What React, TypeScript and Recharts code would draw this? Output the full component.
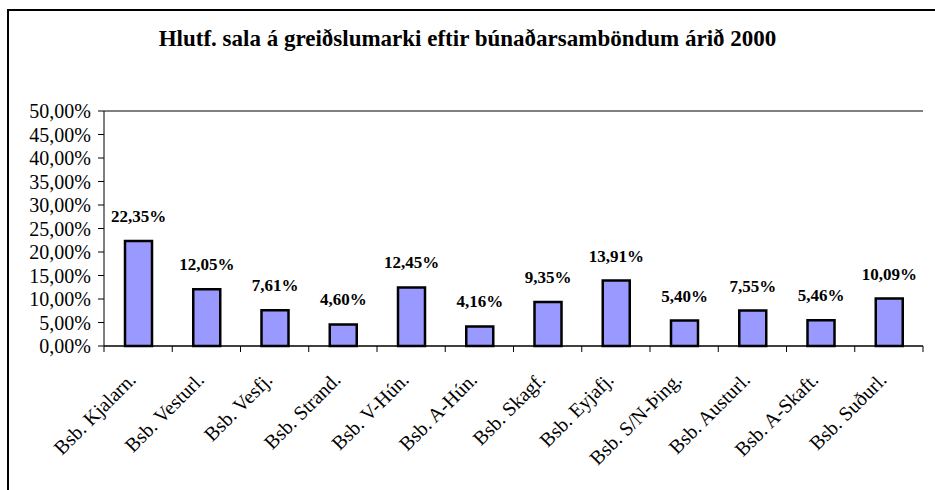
import { Bar, BarChart, CartesianGrid, LabelList, ReferenceLine, XAxis, YAxis } from "recharts"

// Búnaðarsambönd og hlutfall sölu á greiðslumarki árið 2000
const categories = [
  "Bsb. Kjalarn.",
  "Bsb. Vesturl.",
  "Bsb. Vesfj.",
  "Bsb. Strand.",
  "Bsb. V-Hún.",
  "Bsb. A-Hún.",
  "Bsb. Skagf.",
  "Bsb. Eyjafj.",
  "Bsb. S/N-Þing.",
  "Bsb. Austurl.",
  "Bsb. A-Skaft.",
  "Bsb. Suðurl.",
]
const values = [22.35, 12.05, 7.61, 4.6, 12.45, 4.16, 9.35, 13.91, 5.4, 7.55, 5.46, 10.09]
const yTicks = [0, 5, 10, 15, 20, 25, 30, 35, 40, 45, 50]

const data = categories.map((name, i) => ({ name, value: values[i] }))

const FONT = "'Liberation Serif', 'Times New Roman', serif"
const WIDTH = 935
const HEIGHT = 490
const MARGIN = { top: 111, right: 12, bottom: 34, left: 14 }
const Y_WIDTH = 90
const X_HEIGHT = 110
const PLOT_W = WIDTH - MARGIN.left - MARGIN.right - Y_WIDTH

const pct = (v: number) => `${v.toFixed(2).replace(".", ",")}%`

function CategoryTick(props: any) {
  const { x, y, payload, index } = props
  const band = PLOT_W / categories.length
  const i = index ?? payload.index
  return (
    <g>
      <line x1={x - band / 2} x2={x - band / 2} y1={y} y2={y + 6} stroke="#000" />
      {i === categories.length - 1 && (
        <line x1={x + band / 2} x2={x + band / 2} y1={y} y2={y + 6} stroke="#000" />
      )}
      <text
        transform={`translate(${x - 1},${y + 35}) rotate(-45)`}
        textAnchor="end"
        fontFamily={FONT}
        fontSize={20}
        fill="#000"
      >
        {payload.value}
      </text>
    </g>
  )
}

export default function App() {
  return (
    <div
      style={{
        position: "absolute",
        left: 0,
        top: 0,
        width: WIDTH,
        height: HEIGHT,
        overflow: "hidden",
        background: "#fff",
      }}
    >
      <div
        style={{
          position: "absolute",
          left: 7,
          top: 9,
          width: WIDTH,
          height: HEIGHT,
          borderLeft: "2px solid #000",
          borderTop: "2px solid #000",
        }}
      />
      <div
        style={{
          position: "absolute",
          left: 0,
          top: 27,
          width: WIDTH,
          textAlign: "center",
          fontFamily: FONT,
          fontWeight: "bold",
          fontSize: 23,
          lineHeight: "24px",
        }}
      >
        Hlutf. sala á greiðslumarki eftir búnaðarsamböndum árið 2000
      </div>
      <div style={{ position: "absolute", left: 0, top: 0 }}>
        <BarChart width={WIDTH} height={HEIGHT} data={data} margin={MARGIN}>
          <CartesianGrid vertical={false} stroke="#000" strokeWidth={1} />
          <XAxis
            dataKey="name"
            interval={0}
            height={X_HEIGHT}
            tickLine={false}
            tickSize={0}
            tickMargin={0}
            axisLine={{ stroke: "#000" }}
            tick={<CategoryTick />}
          />
          <YAxis
            yAxisId="left"
            domain={[0, 50]}
            ticks={yTicks}
            interval={0}
            width={Y_WIDTH}
            tickSize={6}
            tickMargin={7}
            tickLine={{ stroke: "#000" }}
            axisLine={{ stroke: "#000" }}
            tickFormatter={pct}
            tick={{ fill: "#000", fontFamily: FONT, fontSize: 20 }}
          />
          <YAxis
            yAxisId="right"
            orientation="right"
            domain={[0, 50]}
            width={0}
            tick={false}
            tickLine={false}
            axisLine={{ stroke: "#808080", strokeWidth: 2 }}
          />
          <ReferenceLine yAxisId="left" y={50} stroke="#808080" strokeWidth={2} />
          <Bar
            yAxisId="left"
            dataKey="value"
            fill="#9999FF"
            stroke="#000"
            strokeWidth={2.5}
            barSize={27}
            isAnimationActive={false}
          >
            <LabelList
              dataKey="value"
              position="top"
              offset={19}
              formatter={(v: any) => pct(Number(v))}
              style={{ fontFamily: FONT, fontWeight: "bold", fontSize: 17, fill: "#000" }}
            />
          </Bar>
        </BarChart>
      </div>
    </div>
  )
}
